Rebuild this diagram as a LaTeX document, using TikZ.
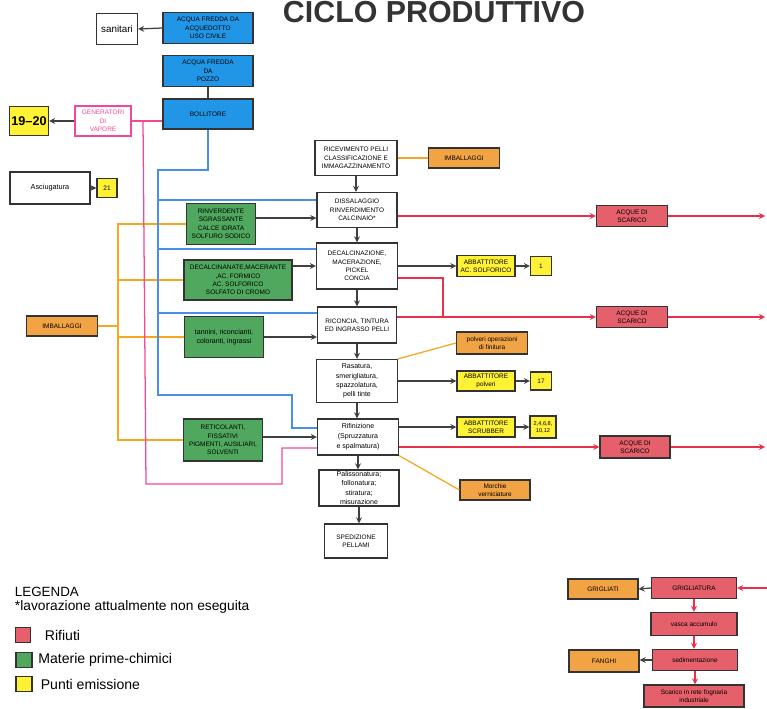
\documentclass[tikz,border=0pt]{standalone}
\usepackage{fontspec}
\setmainfont{Liberation Sans}
\usepackage{xcolor}
\definecolor{cicloBlue}{HTML}{2196E6}
\definecolor{cicloGreen}{HTML}{4FA85E}
\definecolor{cicloRed}{HTML}{E5606B}
\definecolor{cicloOrange}{HTML}{F2A444}
\definecolor{cicloYellow}{HTML}{FFF133}
\definecolor{cicloPink}{HTML}{F2489C}
\definecolor{cicloLineBlue}{HTML}{4A8FE7}
\definecolor{cicloLineOrange}{HTML}{F5A623}
\definecolor{cicloLineRed}{HTML}{E8304A}
\usepackage{tikz}
\usetikzlibrary{calc,positioning}

\newcommand{\boxfont}{\fontsize{4.6}{6}\selectfont}
\newcommand{\legfont}{\fontsize{10}{11}\selectfont}

\begin{document}
\begin{tikzpicture}[x=0.025cm, y=-0.025cm, >=stealth,
  blk/.style={draw=black!80, line width=0.9pt, align=center, inner sep=0.5pt, font=\boxfont},
  sz/.style 2 args={minimum width=#1*0.025cm, minimum height=#2*0.025cm},
  proc/.style={blk, fill=white},
  acqua/.style={blk, fill=cicloBlue},
  chim/.style={blk, fill=cicloGreen},
  rifiuto/.style={blk, fill=cicloRed},
  scarto/.style={blk, fill=cicloOrange},
  emiss/.style={blk, fill=cicloYellow},
  flow/.style={->, draw=black!75, line width=0.9pt},
  acqualine/.style={cicloLineBlue, line width=0.9pt},
  vaporline/.style={cicloPink, line width=0.9pt},
  scartoline/.style={cicloLineOrange, line width=0.9pt},
  rifline/.style={cicloLineRed, line width=0.9pt}]
  \useasboundingbox (0,0) rectangle (767,708);

  % ---- title ----
  \node[font=\bfseries\fontsize{21.6}{24}\selectfont, text=black!80, anchor=base] (title) at (434,23) {CICLO PRODUTTIVO};

  % ---- water and steam ----
  \node[proc, sz={41}{31}, font=\fontsize{7}{8}\selectfont] (sanit) at (117,29) {sanitari};
  \node[acqua, sz={90}{31}] (acqued) at (208,28) {ACQUA FREDDA DA\\ACQUEDOTTO\\USO CIVILE};
  \node[acqua, sz={90}{31}] (pozzo) at (208,71) {ACQUA FREDDA\\DA\\POZZO};
  \node[acqua, sz={90}{30}] (boll) at (208,114) {BOLLITORE};
  \node[proc, draw=cicloPink, text=cicloPink, sz={56}{30}] (genv) at (103,121) {GENERATORI\\DI\\VAPORE};
  \node[emiss, sz={39}{29}, font=\bfseries\fontsize{9}{10}\selectfont] (e1920) at (29,121) {19--20};
  \node[proc, sz={80}{32}, font=\fontsize{5.2}{6}\selectfont] (asciug) at (50,188) {Asciugatura};
  \node[emiss, sz={20}{19}] (e21) at (107,188) {21};

  \draw[flow] (acqued.west) -- (sanit.east);
  \draw[black!75, line width=0.9pt] (pozzo.south) -- (boll.north);
  \draw[flow] (genv.west) -- (e1920.east);
  \draw[flow] (asciug.east) -- (e21.west);
  \draw[vaporline] (genv.east) -- (genv.east -| boll.west);

  % ---- production line ----
  \node[proc, sz={82}{35}] (ricev) at (356,158) {RICEVIMENTO PELLI\\CLASSIFICAZIONE E\\IMMAGAZZINAMENTO};
  \node[scarto, sz={71}{20}] (imbT) at (464,158) {IMBALLAGGI};
  \node[proc, sz={80}{35}] (dissal) at (357,210) {DISSALAGGIO\\RINVERDIMENTO\\CALCINAIO*};
  \node[proc, sz={81}{46}] (decalc) at (357,266) {DECALCINAZIONE,\\MACERAZIONE,\\PICKEL\\CONCIA};
  \node[proc, sz={79}{36}] (ricon) at (357,325) {RICONCIA, TINTURA\\ED INGRASSO PELLI};
  \node[proc, sz={81}{43}, font=\fontsize{5}{6.5}\selectfont] (rasat) at (357,381) {Rasatura,\\smerigliatura,\\spazzolatura,\\pelli tinte};
  \node[proc, sz={81}{36}, font=\fontsize{5}{7}\selectfont] (rifin) at (358,437) {Rifinizione\\(Spruzzatura\\e spalmatura)};
  \node[proc, sz={80}{36}, font=\fontsize{5}{6.5}\selectfont] (paliss) at (359,488) {Palissonatura;\\follonatura;\\stiratura;\\misurazione};
  \node[proc, sz={63}{34}] (sped) at (356,541) {SPEDIZIONE\\PELLAMI};

  \foreach \a/\b in {ricev/dissal, dissal/decalc, decalc/ricon, ricon/rasat, rasat/rifin, rifin/paliss, paliss/sped}
    \draw[flow] (\a.south) -- (\a.south |- \b.north);
  \draw[scartoline] (ricev.east) -- (imbT.west);

  % ---- chemicals ----
  \node[chim, sz={69}{41}] (rinv) at (221,224) {RINVERDENTE\\SGRASSANTE\\CALCE IDRATA\\SOLFURO SODICO};
  \node[chim, sz={108}{40}] (dcChem) at (238,280) {DECALCINANATE,MACERANTE\\,AC. FORMICO\\AC. SOLFORICO\\SOLFATO DI CROMO};
  \node[chim, sz={79}{41}, font=\fontsize{5}{6.5}\selectfont] (tann) at (224,337) {tannini, riconcianti,\\coloranti, ingrassi};
  \node[chim, sz={79}{42}] (retic) at (223,440) {RETICOLANTI,\\FISSATIVI\\PIGMENTI, AUSILIARI,\\SOLVENTI};
  \node[scarto, sz={71}{20}] (imbL) at (62,326) {IMBALLAGGI};

  \coordinate (rvOut) at ($(rinv.east)+(0,-6)$);
  \draw[flow] (rvOut) -- (rvOut -| dissal.west);
  \draw[flow] (decalc.west -| dcChem.east) -- (decalc.west);
  \draw[flow] (tann.east) -- (tann.east -| ricon.west);
  \draw[flow] (rifin.west -| retic.east) -- (rifin.west);

  \coordinate (oT) at (118,224);
  \coordinate (oB) at (118,440);
  \draw[scartoline] (rinv.west) -- (oT) -- (oB) -- (retic.west);
  \draw[scartoline] (dcChem.west) -- (dcChem.west -| oT);
  \draw[scartoline] (tann.west) -- (tann.west -| oT);
  \draw[scartoline] (imbL.east) -- (imbL.east -| oT);

  % ---- hot water from the boiler ----
  \coordinate (bA) at (158,170);
  \coordinate (bB) at (158,395);
  \coordinate (bC) at (292,395);
  \coordinate (dsIn) at ($(dissal.west)+(0,-10)$);
  \coordinate (dcIn) at ($(decalc.west)+(0,-17)$);
  \coordinate (rcIn) at ($(ricon.west)+(0,-12)$);
  \draw[acqualine] (boll.south) |- (bA) -- (bB) -- (bC) |- ($(rifin.west)+(0,-9)$);
  \draw[acqualine] (bA |- dsIn) -- (dsIn);
  \draw[acqualine] (bA |- dcIn) -- (dcIn);
  \draw[acqualine] (bA |- rcIn) -- (rcIn);

  % ---- steam ----
  \coordinate (pA) at (143,121);
  \coordinate (pB) at (146,484);
  \coordinate (pC) at (282,484);
  \draw[vaporline] (pA) -- (pB) -- (pC) |- ($(rifin.west)+(0,11)$);

  % ---- emissions and waste ----
  \node[emiss, sz={58}{21}] (abbSolf) at (486,266) {ABBATTITORE\\AC. SOLFORICO};
  \node[emiss, sz={21}{19}] (e1) at (541,266) {1};
  \node[rifiuto, sz={71}{21}] (scar1) at (632,216) {ACQUE DI\\SCARICO};
  \node[rifiuto, sz={71}{21}] (scar2) at (632,317) {ACQUE DI\\SCARICO};
  \node[scarto, sz={71}{22}] (polv) at (492,343) {polveri operazioni\\di finitura};
  \node[emiss, sz={58}{20}] (abbPolv) at (486,381) {ABBATTITORE\\polveri};
  \node[emiss, sz={21}{18}] (e17) at (541,381) {17};
  \node[emiss, sz={58}{20}] (abbScrub) at (486,427) {ABBATTITORE\\SCRUBBER};
  \node[emiss, sz={26}{22}, font=\fontsize{4}{5}\selectfont] (e2to12) at (543,427) {2,4,6,8,\\10,12};
  \node[rifiuto, sz={70}{22}] (scar3) at (635,447) {ACQUE DI\\SCARICO};
  \node[scarto, sz={70}{20}] (morch) at (495,490) {Morchie\\verniciature};

  \draw[flow] (decalc.east) -- (abbSolf.west);
  \draw[flow] (abbSolf.east) -- (e1.west);
  \draw[flow] (rasat.east) -- (abbPolv.west);
  \draw[flow] (abbPolv.east) -- (e17.west);
  \draw[flow] (abbScrub.west -| rifin.east) -- (abbScrub.west);
  \draw[flow] (abbScrub.east) -- (e2to12.west);
  \draw[scartoline] (rasat.north east) -- (polv.west);
  \draw[scartoline] (rifin.south east) -- (morch.west);

  \coordinate (out1) at (765,216);
  \coordinate (out2) at (765,317);
  \coordinate (out3) at (765,447);
  \coordinate (rJ) at (443,317);
  \draw[rifline, ->] (scar1.west -| dissal.east) -- (scar1.west);
  \draw[rifline, ->] (scar1.east) -- (out1);
  \draw[rifline] ($(decalc.east)+(0,12)$) -| (rJ);
  \draw[rifline, ->] (scar2.west -| ricon.east) -- (scar2.west);
  \draw[rifline, ->] (scar2.east) -- (out2);
  \draw[rifline, ->] (scar3.west -| rifin.east) -- (scar3.west);
  \draw[rifline, ->] (scar3.east) -- (out3);

  % ---- waste water treatment ----
  \node[scarto, sz={70}{20}] (grigl) at (603,589) {GRIGLIATI};
  \node[rifiuto, sz={85}{21}] (griglt) at (694,588) {GRIGLIATURA};
  \node[rifiuto, sz={86}{23}] (vasca) at (694,624) {vasca accumulo};
  \node[rifiuto, sz={85}{21}] (sedim) at (695,660) {sedimentazione};
  \node[scarto, sz={70}{22}] (fanghi) at (604,661) {FANGHI};
  \node[rifiuto, sz={100}{22}] (scarico) at (694,696) {Scarico in rete fognaria\\industriale};

  \coordinate (inG) at (767,588);
  \draw[rifline, ->] (inG) -- (griglt.east);
  \draw[flow] (griglt.west) -- (grigl.east);
  \draw[rifline, ->] (griglt.south) -- (griglt.south |- vasca.north);
  \draw[rifline, ->] (vasca.south) -- (vasca.south |- sedim.north);
  \draw[flow] (sedim.west) -- (sedim.west -| fanghi.east);
  \draw[rifline, ->] (sedim.south) -- (sedim.south |- scarico.north);

  % ---- legend ----
  \node[anchor=west, font=\fontsize{9.5}{11}\selectfont] (leg) at (10,592) {LEGENDA};
  \node[anchor=west, font=\fontsize{9.8}{11}\selectfont] (legNote) at (10,607) {*lavorazione attualmente non eseguita};
  \node[rifiuto, sz={15}{15}] (kRif) at (23,635) {};
  \node[chim, sz={16}{15}] (kChim) at (24,660) {};
  \node[emiss, sz={16}{15}] (kEmiss) at (24,684) {};
  \node[right=0.22cm of kRif, font=\legfont] (lRif) {Rifiuti};
  \node[right=0.02cm of kChim, font=\legfont] (lChim) {Materie prime-chimici};
  \node[right=0.08cm of kEmiss, font=\legfont] (lEmiss) {Punti emissione};
\end{tikzpicture}
\end{document}
